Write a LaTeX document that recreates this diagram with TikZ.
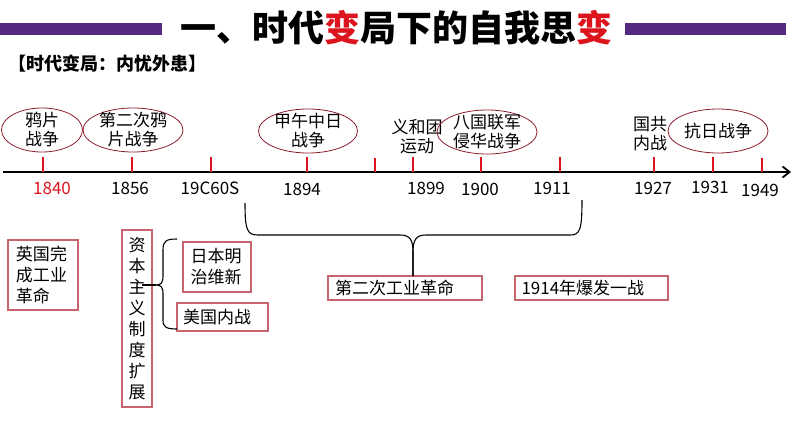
\documentclass[tikz,border=0pt]{standalone}
\usepackage{fontspec}
\setmainfont{Noto Sans CJK SC}
\usetikzlibrary{positioning, arrows.meta, shapes.geometric}

\definecolor{barpurple}{RGB}{84,42,128}
\definecolor{tickred}{RGB}{220,20,30}
\definecolor{ovalred}{RGB}{140,30,45}
\definecolor{boxpink}{RGB}{200,100,110}

\begin{document}
\begin{tikzpicture}[
    x=1pt, y=-1pt,
    every node/.style={font=\fontsize{17}{19}\selectfont, inner sep=0pt},
    oval/.style={
        ellipse,
        draw=ovalred,
        line width=0.8pt,
        minimum width=#1,
        minimum height=44
    },
    event/.style={align=center},
    year/.style={font=\fontsize{17}{20}\selectfont},
    redbox/.style={
        rectangle,
        draw=boxpink,
        line width=1.6pt,
        align=left,
        font=\fontsize{17}{21}\selectfont
    },
    tick/.style={draw=tickred, line width=1.8pt},
    brace/.style={draw=black, line width=1.1pt}
]
\useasboundingbox (0,0) rectangle (794,447);

% ==================== TITLE ====================
\fill[barpurple] (0,23) rectangle (162,35);
\fill[barpurple] (625,23) rectangle (786,35);
\node[font=\fontsize{36}{40}\selectfont\bfseries] (title) at (396,28)
    {一、时代\textcolor{tickred}{变}局下的自我思\textcolor{tickred}{变}};
\node[anchor=west, font=\fontsize{18}{20}\selectfont\bfseries] (subtitle) at (8,64)
    {【时代变局：内忧外患】};

% ==================== TIMELINE ====================
\coordinate (axL) at (3,172);
\coordinate (axR) at (791,172);
\draw[-{Straight Barb[length=7pt, width=11pt]}, line width=1.8pt] (axL) -- (axR);

% Ticks
\draw[tick] (43,157) -- (43,172);
\draw[tick] (132,157) -- (132,172);
\draw[tick] (211,157) -- (211,172);
\draw[tick] (307,157) -- (307,172);
\draw[tick] (375,158) -- (375,172);
\draw[tick] (413,157) -- (413,172);
\draw[tick] (481,157) -- (481,172);
\draw[tick] (560,157) -- (560,172);
\draw[tick] (654,157) -- (654,172);
\draw[tick] (713,157) -- (713,172);
\draw[tick] (762,158) -- (762,172);

% Years
\node[year, text=tickred] (y1840) at (52,188) {1840};
\node[year] (y1856) at (130,188) {1856};
\node[year] (y1860) at (210,188) {19C60S};
\node[year] (y1894) at (302,189) {1894};
\node[year] (y1899) at (426,188) {1899};
\node[year] (y1900) at (480,189) {1900};
\node[year] (y1911) at (552,188) {1911};
\node[year] (y1927) at (653,188) {1927};
\node[year] (y1931) at (710,187) {1931};
\node[year] (y1949) at (760,190) {1949};

% ==================== EVENTS ====================
\node[oval=81] (opium) at (42,130) {};
\node[event] at (opium) {鸦片\\战争};
\node[oval=100] (opium2) at (133,130) {};
\node[event] at (opium2) {第二次鸦\\片战争};
\node[oval=99] (jiawu) at (308,131) {};
\node[event] at (jiawu) {甲午中日\\战争};
\node[event] (boxer) at (417,137) {义和团\\运动};
\node[oval=100] (allied) at (487,132) {};
\node[event] at (allied) {八国联军\\侵华战争};
\node[event] (civil) at (650,134) {国共\\内战};
\node[oval=100] (antijp) at (718,131) {};
\node[event] at (antijp) {抗日战争};

% ==================== LOWER BOXES ====================
\node[redbox, minimum width=70, minimum height=70, text width=54] (ukind) at (43,275)
    {英国完\\成工业\\革命};
\node[redbox, minimum width=30, minimum height=177, align=center] (capital) at (137,318.5)
    {资\\本\\主\\义\\制\\度\\扩\\展};
\node[redbox, minimum width=68, minimum height=50, text width=53] (meiji) at (217,267)
    {日本明\\治维新};
\node[redbox, minimum width=91, minimum height=28, text width=79] (uscivil) at (222.5,317)
    {美国内战};
\node[redbox, minimum width=154, minimum height=24, text width=140] (ind2) at (405,288)
    {第二次工业革命};
\node[redbox, minimum width=153, minimum height=24, text width=140] (ww1) at (591.5,288)
    {1914年爆发一战};

% Small brace
\coordinate (capmid) at (142,285);
\coordinate (jtop) at (177,239);
\coordinate (jbot) at (177,329);
\coordinate (jtip) at (156,285);
\draw[brace] (jtop) .. controls (166,239) and (163,241) .. (163,250) -- (163,276)
    .. controls (163,283) and (161,285) .. (jtip)
    .. controls (161,285) and (163,287) .. (163,294) -- (163,320)
    .. controls (163,327) and (166,329) .. (jbot);
\draw[brace] (capmid) -- (jtip);

% Big brace
\coordinate (bl) at (245,203);
\coordinate (br) at (582,200);
\coordinate (btip) at (413,276);
\draw[brace] (bl) .. controls (245,230) and (247,235) .. (258,235) -- (400,235)
    .. controls (410,235) and (413,240) .. (413,252) -- (btip);
\draw[brace] (btip) -- (413,252)
    .. controls (413,240) and (416,235) .. (426,235) -- (570,235)
    .. controls (580,235) and (582,230) .. (br);

\end{tikzpicture}
\end{document}
